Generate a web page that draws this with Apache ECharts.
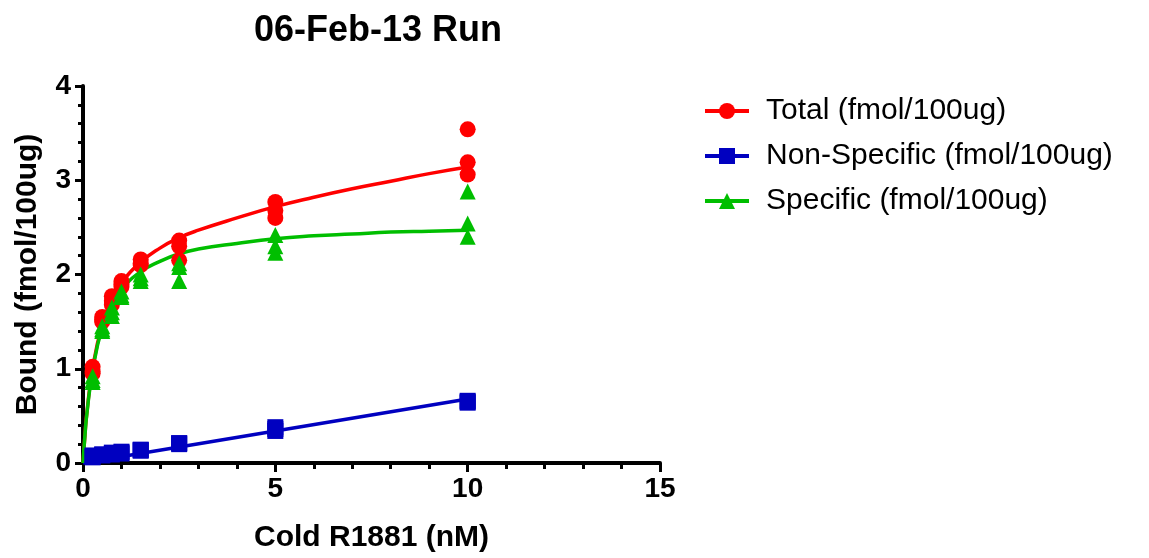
<!DOCTYPE html>
<html lang="en" style="height: 100%">
<head>
    <meta charset="UTF-8">
    <title>06-Feb-13 Run</title>
    <script type="text/javascript" src="https://cdn.jsdelivr.net/npm/echarts@6/dist/echarts.min.js"></script>
</head>
<body style="height: 100%;margin: 0;background:#fff">

<div id="contar" style="width:1149px;height:558px"></div>

<script type="text/javascript">
    // concentrations (nM), three replicates each
    var concX = [0.25, 0.5, 0.75, 1, 1.5, 2.5, 5, 10];
    var totalY = [
        [1.02, 0.97, 0.95], [1.55, 1.50, 1.52], [1.77, 1.72, 1.68], [1.93, 1.90, 1.87],
        [2.16, 2.12, 2.10], [2.36, 2.30, 2.15], [2.77, 2.68, 2.60], [3.54, 3.19, 3.06]
    ];
    var nonSpecY = [
        [0.07, 0.06, 0.08], [0.09, 0.08, 0.09], [0.10, 0.09, 0.11], [0.12, 0.11, 0.10],
        [0.14, 0.13, 0.14], [0.21, 0.20, 0.21], [0.38, 0.34, 0.36], [0.66, 0.64, 0.65]
    ];
    var specY = [
        [0.92, 0.88, 0.86], [1.45, 1.42, 1.40], [1.65, 1.60, 1.56], [1.82, 1.78, 1.76],
        [2.00, 1.96, 1.93], [2.12, 2.08, 1.93], [2.42, 2.30, 2.23], [2.88, 2.54, 2.40]
    ];

    // fitted curves
    var fitX = [0, 0.05, 0.1, 0.25, 0.5, 0.75, 1, 1.5, 2, 2.5, 3, 4, 5, 6, 7, 8, 9, 10];
    var totalFit = [0, 0.29, 0.53, 1.0, 1.47, 1.73, 1.91, 2.13, 2.28, 2.39, 2.47, 2.60, 2.72, 2.82, 2.91, 2.99, 3.07, 3.14];
    var specFit = [0, 0.29, 0.52, 0.98, 1.44, 1.68, 1.84, 2.03, 2.14, 2.22, 2.27, 2.33, 2.38, 2.41, 2.43, 2.45, 2.46, 2.47];
    var nonSpecFitX = [0, 10];
    var nonSpecFit = [0, 0.68];

    var xTicks = [0, 5, 10, 15];
    var yTicks = [0, 1, 2, 3, 4];

    var names = ['Total (fmol/100ug)', 'Non-Specific (fmol/100ug)', 'Specific (fmol/100ug)'];
    var colors = ['#FF0000', '#0000C0', '#00BE00'];
    var symbols = ['circle', 'rect', 'triangle'];

    function points(ys) {
        var out = [];
        for (var i = 0; i < concX.length; i++) {
            for (var j = 0; j < ys[i].length; j++) {
                out.push([concX[i], ys[i][j]]);
            }
        }
        return out;
    }
    function curve(xs, ys) {
        return xs.map(function (x, i) { return [x, ys[i]]; });
    }

    var fits = [curve(fitX, totalFit), curve(nonSpecFitX, nonSpecFit), curve(fitX, specFit)];
    var reps = [points(totalY), points(nonSpecY), points(specY)];

    var series = [];
    for (var k = 0; k < 3; k++) {
        series.push({
            name: names[k],
            type: 'line',
            data: fits[k],
            smooth: true,
            symbol: symbols[k],
            symbolSize: 14,
            showSymbol: false,
            color: colors[k],
            lineStyle: {width: 3.5, color: colors[k]},
            silent: true,
            z: 2
        });
    }
    for (var k = 0; k < 3; k++) {
        series.push({
            name: names[k],
            type: 'scatter',
            data: reps[k],
            symbol: symbols[k],
            symbolSize: 16,
            itemStyle: {color: colors[k], opacity: 1},
            z: 3
        });
    }

    var axisFont = {fontFamily: 'Liberation Sans, Arial, sans-serif', fontWeight: 'bold', color: '#000'};

    var chart = echarts.init(document.getElementById('contar'));
    var option = {
        animation: false,
        title: {
            text: '06-Feb-13 Run',
            left: 373,
            textAlign: 'center',
            top: 8,
            textStyle: {fontFamily: 'Liberation Sans, Arial, sans-serif', fontWeight: 'bold', fontSize: 36, color: '#000'}
        },
        legend: {
            orient: 'vertical',
            left: 698,
            top: 91,
            itemWidth: 44,
            itemHeight: 20,
            itemGap: 15,
            data: names,
            lineStyle: {width: 4},
            textStyle: {fontFamily: 'Liberation Sans, Arial, sans-serif', fontSize: 30, color: '#000', padding: [0, 0, 0, 12]}
        },
        grid: {left: 83, right: 489, top: 86, bottom: 93},
        xAxis: {
            type: 'value',
            min: xTicks[0],
            max: xTicks[xTicks.length - 1],
            interval: 5,
            name: 'Cold R1881 (nM)',
            nameLocation: 'middle',
            nameGap: 60,
            nameTextStyle: Object.assign({fontSize: 30}, axisFont),
            axisLine: {onZero: false, lineStyle: {color: '#000', width: 4}},
            axisTick: {length: 9, lineStyle: {color: '#000', width: 3}},
            minorTick: {show: true, splitNumber: 5, length: 6, lineStyle: {color: '#000', width: 3}},
            axisLabel: Object.assign({fontSize: 28, margin: 12}, axisFont),
            splitLine: {show: false}
        },
        yAxis: {
            type: 'value',
            min: yTicks[0],
            max: yTicks[yTicks.length - 1],
            interval: 1,
            name: 'Bound (fmol/100ug)',
            nameLocation: 'middle',
            nameGap: 40,
            nameTextStyle: Object.assign({fontSize: 30}, axisFont),
            axisLine: {show: true, onZero: false, lineStyle: {color: '#000', width: 4}},
            axisTick: {show: true, length: 8, lineStyle: {color: '#000', width: 3}},
            minorTick: {show: true, splitNumber: 5, length: 5, lineStyle: {color: '#000', width: 3}},
            axisLabel: Object.assign({fontSize: 28, margin: 12}, axisFont),
            splitLine: {show: false}
        },
        series: series
    };
    chart.setOption(option);
</script>

</body>
</html>
